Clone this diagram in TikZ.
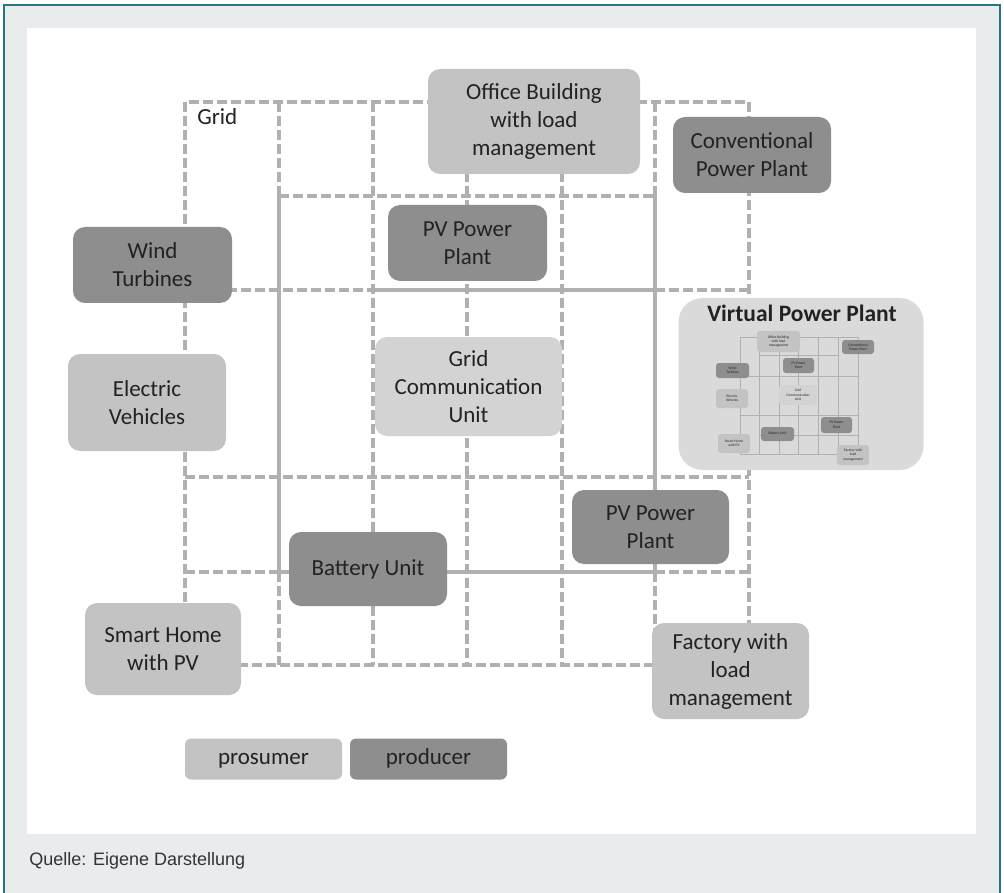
\documentclass[tikz,border=0pt]{standalone}
\usepackage{fontspec}
\setmainfont{Carlito}
\newfontfamily\captionfont{Liberation Sans}
\usepackage{tikz}

\definecolor{framebg}{HTML}{E8ECED}
\definecolor{frameline}{HTML}{2A7585}
\definecolor{linegray}{HTML}{B0B0B0}
\definecolor{prosumergray}{HTML}{C3C3C3}
\definecolor{producergray}{HTML}{8E8E8E}
\definecolor{unitgray}{HTML}{D3D3D3}
\definecolor{vppgray}{HTML}{DADADA}
\definecolor{textgray}{HTML}{222222}
\definecolor{captiongray}{HTML}{333333}

\newcommand{\boxfont}{\fontsize{23}{28}\selectfont}
\newcommand{\minifont}{\fontsize{3.6}{4.3}\selectfont}

\begin{document}
\begin{tikzpicture}[x=1pt, y=-1pt, every node/.style={outer sep=0pt},
    prosumer/.style={fill=prosumergray, rounded corners=12pt, align=center, text=textgray, font=\boxfont, inner sep=0pt},
    producer/.style={prosumer, fill=producergray},
    gridline/.style={draw=linegray, line width=3.2pt, dash pattern=on 10pt off 4pt},
    busline/.style={draw=linegray, line width=3.2pt},
    minibox/.style={fill=prosumergray, rounded corners=3pt, align=center, text=textgray, font=\minifont, inner sep=0pt},
    miniprod/.style={minibox, fill=producergray}]
    \useasboundingbox (0,0) rectangle (1004,893);

    % Frame
    \fill[framebg] (4,5) rectangle (1000,893);
    \draw[frameline, line width=2.4pt] (4,893) -- (4,5) -- (1000,5) -- (1000,893);
    \fill[white] (27,28) rectangle (976,834);

    % Grid (dashed)
    \draw[gridline] (185,102) rectangle (749,665);
    \draw[gridline] (279,102) -- (279,196) (279,572) -- (279,665);
    \draw[gridline] (373,102) -- (373,665);
    \draw[gridline] (467,102) -- (467,665);
    \draw[gridline] (562,102) -- (562,665);
    \draw[gridline] (655,102) -- (655,196) (655,572) -- (655,665);
    \draw[gridline] (279,196) -- (655,196);
    \draw[gridline] (185,290) -- (373,290) (655,290) -- (749,290);
    \draw[gridline] (185,477) -- (749,477);
    \draw[gridline] (185,572) -- (279,572) (655,572) -- (749,572);

    % Inner grid (solid)
    \draw[busline] (279,196) -- (279,572) -- (655,572) -- (655,196);
    \draw[busline] (373,290) -- (655,290);

    \node[anchor=west, font=\boxfont, text=textgray] (gridlabel) at (194,117) {Grid};

    % Prosumers and producers
    \node[prosumer, minimum width=212pt, minimum height=105pt] (office) at (534,121.5) {Office Building\\with load\\management};
    \node[producer, minimum width=158pt, minimum height=76pt] (conv) at (752,155) {Conventional\\Power Plant};
    \node[producer, minimum width=159pt, minimum height=76pt] (pvtop) at (467.5,243) {PV Power\\Plant};
    \node[producer, minimum width=159pt, minimum height=76pt] (wind) at (152.5,265) {Wind\\Turbines};
    \node[prosumer, minimum width=158pt, minimum height=97pt] (ev) at (147,402.5) {Electric\\Vehicles};
    \node[prosumer, fill=unitgray, minimum width=187pt, minimum height=99pt] (gcu) at (468.5,386.5) {Grid\\Communication\\Unit};
    \node[producer, minimum width=157pt, minimum height=74pt] (pvbot) at (650.5,527) {PV Power\\Plant};
    \node[producer, minimum width=158pt, minimum height=74pt] (battery) at (368,569) {Battery Unit};
    \node[prosumer, minimum width=156pt, minimum height=92pt] (home) at (163,649) {Smart Home\\with PV};
    \node[prosumer, minimum width=157pt, minimum height=96pt] (factory) at (730.5,671) {Factory with\\load\\management};

    % Virtual power plant
    \node[fill=vppgray, rounded corners=24pt, minimum width=245pt, minimum height=172pt] (vpp) at (801,384) {};
    \node[font=\fontsize{23.5}{28}\selectfont\bfseries, text=textgray] (vpptitle) at (802,313) {Virtual Power Plant};
    \draw[linegray, line width=0.7pt] (740,337) rectangle (858,454);
    \draw[linegray, line width=0.7pt] (759,337) -- (759,454) (779,337) -- (779,454) (798,337) -- (798,454) (818,337) -- (818,454) (838,337) -- (838,454);
    \draw[linegray, line width=0.7pt] (759,355) -- (838,355) (740,376) -- (858,376) (740,415) -- (858,415) (759,435) -- (858,435);
    \node[minibox, minimum width=43pt, minimum height=21pt] (moffice) at (778.5,341.5) {Office Building\\with load\\management};
    \node[miniprod, minimum width=32pt, minimum height=14pt] (mconv) at (858,347) {Conventional\\Power Plant};
    \node[miniprod, minimum width=31pt, minimum height=15pt] (mpvtop) at (798.5,365.5) {PV Power\\Plant};
    \node[miniprod, minimum width=33pt, minimum height=15pt] (mwind) at (732.5,370.5) {Wind\\Turbines};
    \node[minibox, minimum width=32pt, minimum height=19pt] (mev) at (732,398.5) {Electric\\Vehicles};
    \node[minibox, fill=unitgray, minimum width=38pt, minimum height=20pt] (mgcu) at (798,395) {Grid\\Communication\\Unit};
    \node[miniprod, minimum width=31pt, minimum height=16pt] (mpvbot) at (836.5,425) {PV Power\\Plant};
    \node[miniprod, minimum width=33pt, minimum height=14pt] (mbattery) at (777.5,434) {Battery Unit};
    \node[minibox, minimum width=32pt, minimum height=19pt] (mhome) at (734,443.5) {Smart Home\\with PV};
    \node[minibox, minimum width=32pt, minimum height=20pt] (mfactory) at (853,455) {Factory with\\load\\management};

    % Legend
    \node[prosumer, rounded corners=6pt, minimum width=157pt, minimum height=41pt] (legpro) at (263.5,759) {\strut prosumer};
    \node[producer, rounded corners=6pt, minimum width=157pt, minimum height=41pt] (legprod) at (428.5,759) {\strut producer};

    % Source
    \node[anchor=west, font=\captionfont\fontsize{18}{20}\selectfont, text=captiongray] (source) at (26,861) {Quelle: Eigene Darstellung};
\end{tikzpicture}
\end{document}
